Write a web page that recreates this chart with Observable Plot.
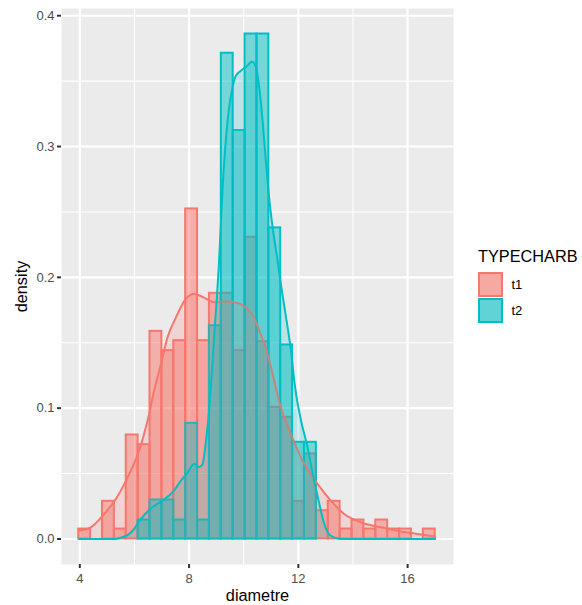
<!DOCTYPE html>
<html>
<head>
<meta charset="utf-8">
<script src="https://cdn.jsdelivr.net/npm/d3@7"></script>
<script src="https://cdn.jsdelivr.net/npm/@observablehq/plot@0.6"></script>
<style>
  html, body { margin: 0; padding: 0; background: #ffffff; }
  #wrap { position: relative; width: 582px; height: 605px; background: #ffffff; overflow: hidden; }
  #chart { position: absolute; left: 0; top: 0; }
  #legend { position: absolute; left: 0; top: 0; pointer-events: none; }
</style>
</head>
<body>
<div id="wrap">
  <div id="chart"></div>
  <svg id="legend" width="582" height="605"></svg>
</div>
<script>
// ---- data ----
const groups = ["t1", "t2"];
const groupColors = ["#F8766D", "#00BFC4"];
const legendTitle = "TYPECHARB";
const xTitle = "diametre";
const yTitle = "density";

const binStart = 3.96;   // left edge of first histogram bin
const binWidth = 0.435;  // histogram bin width

const t1Density = [0.0076, 0, 0.0288, 0.0076, 0.0795, 0.0721, 0.1587, 0.1440, 0.1516, 0.2523,
                   0.1516, 0.1878, 0.1878, 0.1440, 0.2306, 0.1508, 0.1006, 0.0930, 0.0288, 0.0650,
                   0.0216, 0.0288, 0.0076, 0.0145, 0.0076, 0.0145, 0.0076, 0.0076, 0, 0.0076];
const t2Density = [0, 0, 0, 0, 0, 0.0145, 0.0298, 0.0298, 0.0145, 0.0884,
                   0.0145, 0.1630, 0.3713, 0.3122, 0.3860, 0.3860, 0.2378, 0.1483, 0.0739, 0.0739,
                   0, 0, 0, 0, 0, 0, 0, 0, 0, 0];

const t1CurveX = [3.97, 4.40, 4.89, 5.32, 5.75, 6.17, 6.48, 6.72, 6.97, 7.21, 7.52, 7.88, 8.19, 8.55,
                  8.92, 9.29, 9.65, 10.02, 10.30, 10.63, 10.81, 11.00, 11.36, 11.73, 12.22, 12.71,
                  13.19, 13.68, 14.29, 15.03, 15.76, 16.37, 17.01];
const t1CurveY = [0.0065, 0.0089, 0.0191, 0.0306, 0.0471, 0.0675, 0.0904, 0.1134, 0.1338, 0.1541,
                  0.1694, 0.1835, 0.1873, 0.1845, 0.1810, 0.1815, 0.1810, 0.1780, 0.1720, 0.1560,
                  0.1460, 0.1310, 0.1006, 0.0800, 0.0573, 0.0420, 0.0293, 0.0191, 0.0127, 0.0089,
                  0.0058, 0.0038, 0.0018];

const t2CurveX = [3.97, 5.30, 5.50, 5.75, 6.00, 6.17, 6.60, 7.03, 7.45, 7.70, 7.92, 8.19, 8.37, 8.49,
                  8.62, 8.74, 8.90, 9.10, 9.23, 9.41, 9.59, 9.71, 9.90, 10.14, 10.30, 10.45, 10.57,
                  10.69, 10.81, 10.93, 11.06, 11.24, 11.36, 11.55, 11.73, 11.88, 12.10, 12.34, 12.58,
                  12.77, 12.95, 13.19, 13.56, 17.01];
const t2CurveY = [0, 0, 0.001, 0.003, 0.008, 0.0135, 0.0234, 0.0293, 0.0370, 0.0446, 0.0500, 0.0575,
                  0.0550, 0.0570, 0.0750, 0.1000, 0.1490, 0.2130, 0.2690, 0.3200, 0.3450, 0.3540,
                  0.3580, 0.3620, 0.3650, 0.3606, 0.3450, 0.3200, 0.2890, 0.2610, 0.2380, 0.2130,
                  0.1950, 0.1694, 0.1440, 0.1160, 0.0904, 0.0700, 0.0446, 0.0268, 0.0115, 0.0025,
                  0, 0];

const xTicks = [4, 8, 12, 16];
const xMinor = [6, 10, 14];
const yTicks = [0, 0.1, 0.2, 0.3, 0.4];
const yMinor = [0.05, 0.15, 0.25, 0.35];

// ---- tables built from the arrays ----
const densities = {t1: t1Density, t2: t2Density};
const bars = [];
for (const g of groups) {
  densities[g].forEach((d, i) => {
    if (d > 0) bars.push({group: g, x1: binStart + i * binWidth, x2: binStart + (i + 1) * binWidth, y0: 0, density: d});
  });
}
const curves = {
  t1: t1CurveX.map((x, i) => ({x, y: t1CurveY[i]})),
  t2: t2CurveX.map((x, i) => ({x, y: t2CurveY[i]}))
};

const font = "'Liberation Sans', Arial, Helvetica, sans-serif";

const densityMarks = [];
groups.forEach((g, k) => {
  densityMarks.push(Plot.areaY(curves[g], {x: "x", y: "y", fill: groupColors[k], fillOpacity: 0.2, curve: "monotone-x"}));
  densityMarks.push(Plot.lineY(curves[g], {x: "x", y: "y", stroke: groupColors[k], strokeWidth: 2, curve: "monotone-x"}));
});

const chart = Plot.plot({
  width: 462,
  height: 605,
  marginLeft: 61,
  marginRight: 9,
  marginTop: 8,
  marginBottom: 41,
  x: {domain: [3.33, 17.68]},
  y: {domain: [-0.0195, 0.4055]},
  color: {domain: groups, range: groupColors},
  style: {fontFamily: font, fontSize: "13px", background: "transparent", overflow: "visible"},
  marks: [
    Plot.frame({fill: "#EBEBEB", stroke: null}),
    Plot.ruleX(xMinor, {stroke: "#ffffff", strokeWidth: 1.05}),
    Plot.ruleY(yMinor, {stroke: "#ffffff", strokeWidth: 1.05}),
    Plot.ruleX(xTicks, {stroke: "#ffffff", strokeWidth: 2.1}),
    Plot.ruleY(yTicks, {stroke: "#ffffff", strokeWidth: 2.1}),
    Plot.rect(bars, {x1: "x1", x2: "x2", y1: "y0", y2: "density", fill: "group", fillOpacity: 0.5, stroke: "group", strokeWidth: 2}),
    ...densityMarks,
    Plot.axisX({ticks: xTicks, tickSize: 4, tickPadding: 5, label: null, stroke: "#333333", strokeWidth: 2, fill: "#4D4D4D", fontSize: 13}),
    Plot.axisY({ticks: yTicks, tickFormat: d3.format(".1f"), tickSize: 4, tickPadding: 3, label: null, stroke: "#333333", strokeWidth: 2, fill: "#4D4D4D", fontSize: 13}),
    Plot.text([xTitle], {frameAnchor: "bottom", dy: 31, lineAnchor: "middle", textAnchor: "middle", text: d => d, fontSize: 16.3, fill: "#000000"}),
    Plot.text([yTitle], {frameAnchor: "left", dx: -40, rotate: -90, lineAnchor: "middle", textAnchor: "middle", text: d => d, fontSize: 16.3, fill: "#000000"})
  ]
});
document.getElementById("chart").appendChild(chart);

// ---- legend (built from groups / colours) ----
const leg = d3.select("#legend");
leg.append("text").attr("x", 478).attr("y", 261.7)
  .attr("font-family", font).attr("font-size", 16.3).attr("fill", "#000").text(legendTitle);
groups.forEach((g, k) => {
  const y = 272 + k * 26;
  leg.append("rect").attr("x", 478).attr("y", y).attr("width", 25).attr("height", 25).attr("fill", "#F2F2F2");
  leg.append("rect").attr("x", 479).attr("y", y + 1).attr("width", 23).attr("height", 23)
    .attr("fill", groupColors[k]).attr("fill-opacity", 0.5).attr("stroke", groupColors[k]).attr("stroke-width", 2);
  leg.append("rect").attr("x", 479).attr("y", y + 1).attr("width", 23).attr("height", 23)
    .attr("fill", groupColors[k]).attr("fill-opacity", 0.2).attr("stroke", groupColors[k]).attr("stroke-width", 2);
  leg.append("text").attr("x", 511.5).attr("y", y + 12.5 + 4.6)
    .attr("font-family", font).attr("font-size", 13).attr("fill", "#000").text(g);
});
</script>
</body>
</html>
